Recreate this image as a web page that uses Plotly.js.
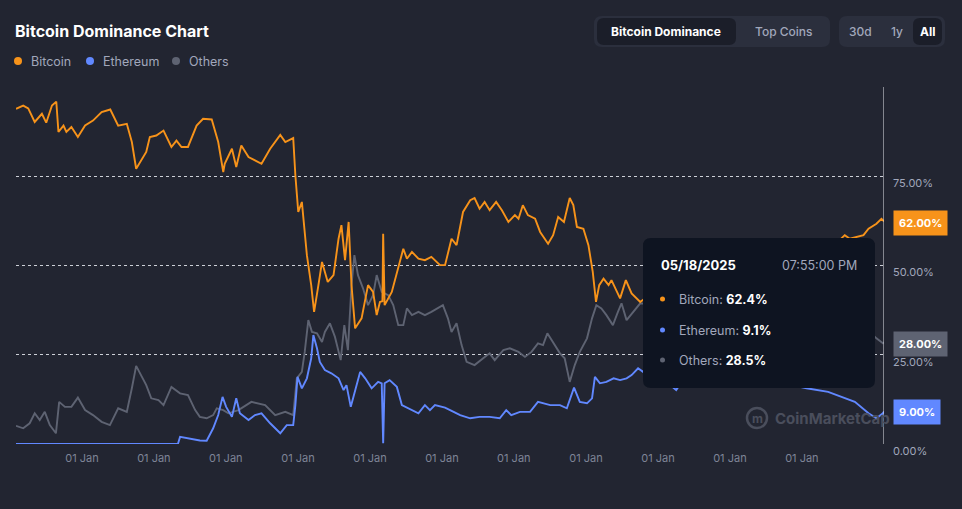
<!DOCTYPE html>
<html>
<head>
<meta charset="utf-8">
<script src="https://cdn.plot.ly/plotly-3.0.1.min.js"></script>
<style>
  html, body { margin: 0; padding: 0; background: #222531; }
  #chart { width: 962px; height: 509px; }
</style>
</head>
<body>
<div id="chart"></div>
<script>
// ---- Data (decimal years, dominance %) ----
const btcYears = [2013.32,2013.42,2013.49,2013.58,2013.68,2013.74,2013.82,2013.88,2013.91,2013.98,2014.02,2014.09,2014.18,2014.28,2014.39,2014.51,2014.63,2014.74,2014.86,2014.93,2014.99,2015.07,2015.13,2015.18,2015.27,2015.37,2015.48,2015.55,2015.62,2015.71,2015.83,2015.92,2016.04,2016.13,2016.20,2016.22,2016.27,2016.32,2016.38,2016.45,2016.55,2016.64,2016.73,2016.85,2016.99,2017.06,2017.17,2017.20,2017.24,2017.29,2017.36,2017.42,2017.46,2017.52,2017.57,2017.65,2017.73,2017.80,2017.84,2017.89,2017.94,2017.98,2018.03,2018.12,2018.21,2018.28,2018.33,2018.375,2018.41,2018.42,2018.43,2018.44,2018.54,2018.61,2018.70,2018.75,2018.82,2018.91,2019.00,2019.09,2019.21,2019.28,2019.37,2019.44,2019.53,2019.63,2019.69,2019.76,2019.83,2019.90,2019.99,2020.07,2020.16,2020.25,2020.30,2020.36,2020.43,2020.53,2020.60,2020.71,2020.78,2020.85,2020.93,2021.01,2021.06,2021.11,2021.20,2021.27,2021.33,2021.375,2021.42,2021.48,2021.55,2021.59,2021.71,2021.79,2021.87,2021.99,2022.20,2022.45,2022.70,2022.90,2023.10,2023.30,2023.50,2023.75,2024.00,2024.20,2024.45,2024.70,2024.83,2024.90,2025.09,2025.16,2025.27,2025.34,2025.375];
const btcValues = [93.9,94.8,94.0,90.2,92.5,90.0,94.8,95.9,87.4,89.2,87.4,88.8,86.0,89.2,90.6,93.0,93.7,89.2,89.7,84.6,77.1,79.9,81.8,86.0,86.4,87.8,83.2,85.0,83.2,83.2,89.2,91.1,90.9,84.6,76.2,78.5,80.8,82.7,77.6,83.6,80.4,79.4,78.5,82.7,86.6,84.6,85.7,75.2,65.0,67.8,52.9,44.5,37.0,44.5,51.0,45.4,47.3,57.5,61.3,51.5,62.2,44.5,32.4,35.2,44.5,42.6,36.1,39.8,40.0,58.9,39.0,38.9,42.6,48.2,54.7,51.9,53.8,51.9,51.5,52.4,50.1,50.1,57.5,55.7,65.0,68.3,68.9,65.9,67.8,65.5,67.8,65.5,62.2,64.1,63.1,66.9,64.1,63.1,59.4,56.1,58.5,63.6,62.2,68.9,66.9,60.8,60.3,55.7,48.2,39.8,44.5,46.3,44.5,45.9,40.8,45.9,42.2,39.8,43.0,46.0,42.0,40.5,42.0,46.0,50.0,50.0,52.0,51.0,54.0,56.0,58.5,57.5,58.5,60.3,61.7,63.1,62.4];

const ethYears = [2013.32,2015.57,2015.60,2015.74,2015.875,2015.97,2016.06,2016.13,2016.19,2016.24,2016.32,2016.38,2016.43,2016.55,2016.64,2016.73,2016.85,2016.99,2017.08,2017.17,2017.20,2017.23,2017.29,2017.36,2017.42,2017.45,2017.50,2017.54,2017.61,2017.70,2017.80,2017.87,2017.91,2017.97,2018.03,2018.10,2018.17,2018.26,2018.35,2018.40,2018.42,2018.44,2018.51,2018.61,2018.68,2018.77,2018.91,2019.00,2019.07,2019.14,2019.28,2019.35,2019.49,2019.63,2019.76,2019.90,2020.04,2020.13,2020.20,2020.32,2020.46,2020.57,2020.74,2020.875,2020.97,2021.07,2021.15,2021.25,2021.32,2021.36,2021.43,2021.52,2021.62,2021.71,2021.80,2021.87,2021.96,2022.03,2022.20,2022.35,2022.49,2022.60,2022.80,2023.00,2023.30,2023.60,2023.90,2024.10,2024.30,2024.60,2024.79,2024.97,2025.16,2025.27,2025.36,2025.375];
const ethValues = [0,0,2.0,1.5,1.0,0.9,4.4,8.1,13.2,10.4,7.6,12.8,8.6,6.7,8.1,8.6,5.8,3.0,5.3,5.3,10.9,18.8,15.6,18.4,24.0,30.5,26.8,23.0,20.7,19.8,18.4,15.1,16.5,10.4,14.6,20.2,18.4,15.6,17.4,17.0,0.2,17.0,17.9,16.0,10.9,10.0,8.6,10.9,9.5,10.9,10.2,9.5,8.1,7.2,7.6,7.6,7.2,9.5,8.1,9.0,9.0,11.8,10.9,10.9,10.0,15.8,11.8,11.4,12.8,18.8,17.0,17.4,18.4,17.9,18.4,19.3,21.2,20.2,18.0,17.5,15.1,18.5,19.0,18.5,19.5,18.5,17.5,16.5,15.6,14.6,13.2,11.8,8.6,7.2,8.6,9.1];

const othYears = [2013.32,2013.42,2013.51,2013.58,2013.65,2013.72,2013.79,2013.875,2013.92,2014.00,2014.09,2014.18,2014.28,2014.39,2014.51,2014.625,2014.74,2014.86,2014.93,2014.99,2015.07,2015.13,2015.20,2015.30,2015.37,2015.48,2015.60,2015.71,2015.81,2015.875,2015.97,2016.06,2016.11,2016.20,2016.27,2016.41,2016.59,2016.78,2016.92,2017.06,2017.17,2017.22,2017.29,2017.33,2017.38,2017.43,2017.50,2017.57,2017.61,2017.68,2017.75,2017.83,2017.88,2017.93,2017.98,2018.02,2018.07,2018.14,2018.21,2018.28,2018.33,2018.40,2018.49,2018.56,2018.63,2018.70,2018.75,2018.82,2018.91,2019.00,2019.09,2019.18,2019.25,2019.32,2019.37,2019.44,2019.51,2019.58,2019.69,2019.81,2019.90,2019.97,2020.09,2020.18,2020.30,2020.39,2020.48,2020.57,2020.64,2020.70,2020.78,2020.875,2020.94,2021.01,2021.08,2021.15,2021.25,2021.32,2021.38,2021.45,2021.52,2021.61,2021.68,2021.73,2021.80,2021.89,2021.99,2022.20,2022.45,2022.70,2022.90,2023.10,2023.30,2023.50,2023.75,2024.00,2024.20,2024.45,2024.70,2024.90,2025.10,2025.20,2025.27,2025.36,2025.375];
const othValues = [5.1,4.4,5.8,8.6,6.7,9.0,5.3,3.0,11.8,10.4,10.4,13.0,9.5,8.1,6.2,5.3,10.0,9.0,15.6,21.9,18.8,16.5,12.8,12.3,10.9,16.0,14.2,13.7,9.5,7.6,7.2,8.1,10.0,9.5,8.6,9.5,11.8,10.9,8.1,9.0,8.1,18.4,20.2,25.8,34.7,31.4,31.0,28.6,31.4,33.8,30.0,23.5,33.3,26.3,44.5,52.9,47.3,43.6,38.9,41.7,47.3,42.6,41.7,38.9,33.3,33.3,38.0,36.1,37.0,36.1,37.0,38.0,38.9,35.2,31.4,33.8,27.7,23.0,22.1,24.0,25.4,23.5,26.3,26.8,25.8,24.4,25.8,28.2,27.7,31.0,28.6,25.4,24.0,17.4,22.1,25.8,29.6,35.2,38.9,38.0,36.1,33.3,37.0,39.4,34.7,37.0,39.4,39.0,38.0,39.0,40.0,39.0,35.0,32.0,32.0,31.0,32.0,30.0,30.0,30.0,31.0,31.0,29.6,28.2,28.5];

const seriesNames = ["Bitcoin","Ethereum","Others"];
const seriesColors = ["#F7931A","#6188FF","#5E6372"];
const tickYears = [2014,2015,2016,2017,2018,2019,2020,2021,2022,2023,2024];
const tickLabel = "01 Jan";
const yTickVals = [0,25,50,75,100];
const yTickText = ["0.00%","25.00%","50.00%","75.00%",""];
const xRangeYears = [2013.32, 2025.375];
const badgeValues = [62, 28, 9];
const badgeLabels = ["62.00%","28.00%","9.00%"];
const tooltipDate = "05/18/2025";
const tooltipTime = "07:55:00 PM";
const tooltipValues = ["62.4%","9.1%","28.5%"];
const buttonLabels = ["Bitcoin Dominance","Top Coins","30d","1y","All"];

// ---- helpers ----
function toDate(y){
  const yr = Math.floor(y);
  const s = Date.UTC(yr,0,1), e = Date.UTC(yr+1,0,1);
  return new Date(s + (y-yr)*(e-s)).toISOString().slice(0,19).replace('T',' ');
}
const W = 962, H = 509, ML = 16, MR = 78, MT = 87, MB = 65;
const PW = W-ML-MR, PH = H-MT-MB;
const px = x => (x-ML)/PW;
const py = y => (H-MB-y)/PH;
function rrect(x0,y0,x1,y1,r){
  const rx = r/PW, ry = r/PH;
  const X0=px(x0), X1=px(x1), Y0=py(y0), Y1=py(y1);
  return `M${X0+rx},${Y0} L${X1-rx},${Y0} Q${X1},${Y0} ${X1},${Y0-ry} L${X1},${Y1+ry} Q${X1},${Y1} ${X1-rx},${Y1} L${X0+rx},${Y1} Q${X0},${Y1} ${X0},${Y1+ry} L${X0},${Y0-ry} Q${X0},${Y0} ${X0+rx},${Y0} Z`;
}

const yearsList = [btcYears, ethYears, othYears];
const valuesList = [btcValues, ethValues, othValues];
const traces = [2,1,0].map(i => ({
  x: yearsList[i].map(toDate),
  y: valuesList[i],
  type: 'scatter', mode: 'lines', name: seriesNames[i],
  line: {color: seriesColors[i], width: 1.9},
  hoverinfo: 'skip'
}));

const FONT = 'Inter, "Noto Sans", sans-serif';
const annotations = [];
const shapes = [];

// Title
annotations.push({xref:'paper',yref:'paper',x:px(13),y:py(31),xanchor:'left',yanchor:'middle',showarrow:false,
  text:'<b>Bitcoin Dominance Chart</b>',font:{family:FONT,size:16,color:'#FFFFFF'}});
// Legend
const legendDotX = [18, 90, 176];
const legendTextX = [29, 101, 187];
seriesNames.forEach((n,i)=>{
  shapes.push({type:'circle',xref:'paper',yref:'paper',x0:px(legendDotX[i]-4),x1:px(legendDotX[i]+4),y0:py(65),y1:py(57),
    fillcolor:seriesColors[i],line:{width:0}});
  annotations.push({xref:'paper',yref:'paper',x:px(legendTextX[i]),y:py(61),xanchor:'left',yanchor:'middle',showarrow:false,
    text:n,font:{family:FONT,size:12.5,color:'#A1A7BB'}});
});

// Buttons
shapes.push({type:'path',xref:'paper',yref:'paper',path:rrect(594,16,830,47,8),fillcolor:'#2B2F3D',line:{width:0}});
shapes.push({type:'path',xref:'paper',yref:'paper',path:rrect(597,18,736,45,7),fillcolor:'#1B1E29',line:{width:0}});
shapes.push({type:'path',xref:'paper',yref:'paper',path:rrect(839,16,945,47,8),fillcolor:'#2B2F3D',line:{width:0}});
shapes.push({type:'path',xref:'paper',yref:'paper',path:rrect(913,18,942,45,7),fillcolor:'#1B1E29',line:{width:0}});
const btnX = [666, 784, 860, 897, 928];
const btnActive = [true,false,false,false,true];
buttonLabels.forEach((b,i)=>{
  annotations.push({xref:'paper',yref:'paper',x:px(btnX[i]),y:py(31.5),xanchor:'center',yanchor:'middle',showarrow:false,
    text: btnActive[i] ? '<b>'+b+'</b>' : b,
    font:{family:FONT,size:12,color: btnActive[i] ? '#FFFFFF' : '#A1A7BB', weight: btnActive[i]?700:500}});
});

// Crosshair vertical line at last point
shapes.push({type:'line',xref:'x',yref:'paper',x0:toDate(xRangeYears[1]),x1:toDate(xRangeYears[1]),y0:0,y1:1,
  line:{color:'#E6E8EE',width:1}});

// Watermark
shapes.push({type:'circle',xref:'paper',yref:'paper',x0:px(747),x1:px(767),y0:py(428),y1:py(408),
  fillcolor:'rgba(0,0,0,0)',line:{color:'#4A4E5C',width:2.5},layer:'below'});
annotations.push({xref:'paper',yref:'paper',x:px(757),y:py(418.5),xanchor:'center',yanchor:'middle',showarrow:false,
  text:'<b>m</b>',font:{family:FONT,size:12,color:'#4A4E5C'}});
annotations.push({xref:'paper',yref:'paper',x:px(773),y:py(418),xanchor:'left',yanchor:'middle',showarrow:false,
  text:'<b>CoinMarketCap</b>',font:{family:FONT,size:15,color:'#4A4E5C'}});

// Tooltip
shapes.push({type:'path',xref:'paper',yref:'paper',path:rrect(643,238,875,388,8),fillcolor:'#0E1421',line:{width:0},layer:'above'});
annotations.push({xref:'paper',yref:'paper',x:px(659),y:py(265),xanchor:'left',yanchor:'middle',showarrow:false,
  text:'<b>'+tooltipDate+'</b>',font:{family:FONT,size:13,color:'#FFFFFF'}});
annotations.push({xref:'paper',yref:'paper',x:px(859),y:py(265),xanchor:'right',yanchor:'middle',showarrow:false,
  text:tooltipTime,font:{family:FONT,size:12.5,color:'#A1A7BB'}});
const tipY = [299, 330, 360];
seriesNames.forEach((n,i)=>{
  shapes.push({type:'circle',xref:'paper',yref:'paper',x0:px(660),x1:px(665),y0:py(tipY[i]+2.5),y1:py(tipY[i]-2.5),
    fillcolor:seriesColors[i],line:{width:0},layer:'above'});
  annotations.push({xref:'paper',yref:'paper',x:px(677),y:py(tipY[i]),xanchor:'left',yanchor:'middle',showarrow:false,
    text:'<span style="color:#A1A7BB">'+n+': </span><b>'+tooltipValues[i]+'</b>',font:{family:FONT,size:12.5,color:'#FFFFFF'}});
});

// Badges on right axis (rounded boxes + text)
const badgeColors = ['#F7931A','#5E6372','#6188FF'];
badgeValues.forEach((v,i)=>{
  annotations.push({xref:'paper',yref:'y',x:1,y:v,xanchor:'left',yanchor:'middle',xshift:9,showarrow:false,
    text:'<b>'+badgeLabels[i]+'</b>',bgcolor:badgeColors[i],borderpad:5,
    font:{family:FONT,size:11,color:'#FFFFFF'}});
});

const layout = {
  width: W, height: H,
  paper_bgcolor: '#222531', plot_bgcolor: '#222531',
  margin: {l: ML, r: MR, t: MT, b: MB},
  showlegend: false,
  hovermode: false,
  font: {family: FONT, color: '#A1A7BB'},
  xaxis: {
    type: 'date',
    range: xRangeYears.map(toDate),
    tickvals: tickYears.map(y => toDate(y)),
    ticktext: tickYears.map(() => tickLabel),
    showgrid: false, zeroline: false, showline: false,
    ticks: '', ticklabelshift: 17, ticklabelstandoff: 6,
    tickfont: {family: FONT, size: 11, color: '#7E8497'},
    fixedrange: true
  },
  yaxis: {
    side: 'right',
    range: [0, 100],
    tickvals: yTickVals, ticktext: yTickText,
    showgrid: true, gridcolor: 'rgba(235,238,245,0.85)', griddash: 'dot', gridwidth: 1,
    zeroline: false, showline: false, ticks: '',
    ticklabelshift: 7, ticklabelstandoff: 8,
    tickfont: {family: FONT, size: 11, color: '#A1A7BB'},
    fixedrange: true
  },
  shapes: shapes,
  annotations: annotations
};

Plotly.newPlot('chart', traces, layout, {displayModeBar: false, staticPlot: true});
</script>
</body>
</html>
